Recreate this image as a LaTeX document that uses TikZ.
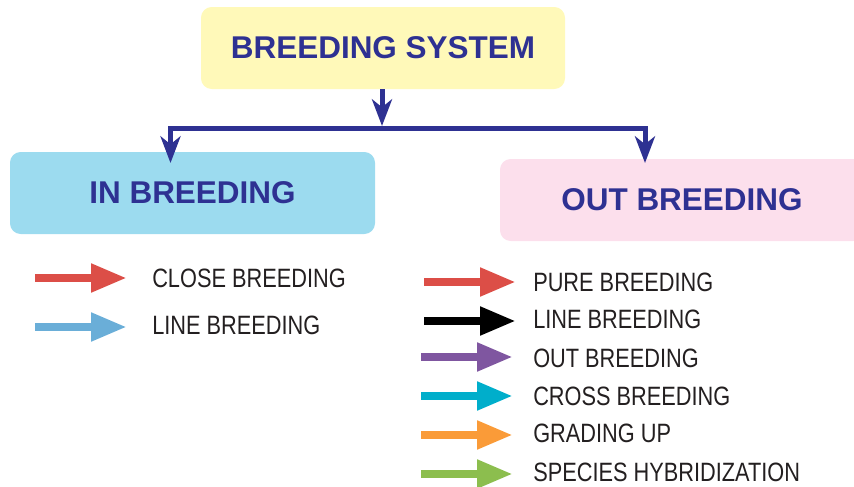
\documentclass[tikz,border=0pt]{standalone}
\usepackage{fontspec}
\setmainfont{Liberation Sans}
\newfontfamily\condfont[FakeStretch=0.82]{Liberation Sans}
\usetikzlibrary{arrows.meta}
\definecolor{navy}{HTML}{2E3192}
\definecolor{yellowbox}{HTML}{FFF9B9}
\definecolor{cyanbox}{HTML}{9CDBEF}
\definecolor{pinkbox}{HTML}{FCDFEC}
\definecolor{legred}{HTML}{DC4E47}
\definecolor{legblue}{HTML}{6AAED8}
\definecolor{legpurple}{HTML}{7F56A0}
\definecolor{legcyan}{HTML}{00AECB}
\definecolor{legorange}{HTML}{FA9B38}
\definecolor{leggreen}{HTML}{8CBE4E}
\definecolor{legtext}{HTML}{231F20}
\tikzset{navytip/.tip={Stealth[length=20pt,width=15pt,inset=6pt]}}
\begin{document}
\begin{tikzpicture}[x=0.75pt,y=-0.75pt,
  box/.style={rounded corners=8pt, minimum width=273pt, minimum height=61.5pt,
    inner sep=0pt, text=navy, font=\fontsize{23.6}{28}\selectfont\bfseries},
  conn/.style={draw=navy, line width=3.75pt, -{navytip}},
  leg/.style={line width=6.5pt, -{Triangle[length=27pt,width=20pt]}},
  legtxt/.style={anchor=west, inner sep=0pt, text=legtext, font=\condfont\fontsize{19.9}{24}\selectfont}]
\useasboundingbox (0,0) rectangle (854,486);
\clip (0,0) rectangle (854,486);
% boxes
\node[box, fill=yellowbox] (top) at (383,48) {BREEDING SYSTEM};
\node[box, fill=cyanbox, minimum width=273.75pt] (inb) at (192.5,193) {IN BREEDING};
\node[box, fill=pinkbox] (outb) at (682,200) {OUT BREEDING};
% connectors
\coordinate (j) at (382,128);
\coordinate (lt) at (170.5,163);
\coordinate (rt) at (645,163);
\draw[conn] (top.south -| j) -- ([yshift=1.5pt]j);
\draw[draw=navy, line width=3.75pt, {navytip}-{navytip}]
  (lt) |- (j) -| (rt);
% left legend
\coordinate (a1s) at (35,278); \coordinate (a1e) at (127,278);
\coordinate (a2s) at (35,327); \coordinate (a2e) at (127,327);
\draw[leg, legred] (a1s) -- (a1e);
\draw[leg, legblue] (a2s) -- (a2e);
\node[legtxt] (t1) at (152,278.5) {CLOSE BREEDING};
\node[legtxt] (t2) at (152,325) {LINE BREEDING};
% right legend
\coordinate (b1s) at (424,282) ; \coordinate (b1e) at (516,282);
\coordinate (b2s) at (424,321) ; \coordinate (b2e) at (516,321);
\coordinate (b3s) at (421,357) ; \coordinate (b3e) at (513,357);
\coordinate (b4s) at (421,396) ; \coordinate (b4e) at (513,396);
\coordinate (b5s) at (421,435) ; \coordinate (b5e) at (513,435);
\coordinate (b6s) at (421,474) ; \coordinate (b6e) at (513,474);
\draw[leg, legred] (b1s) -- (b1e);
\draw[leg, black] (b2s) -- (b2e);
\draw[leg, legpurple] (b3s) -- (b3e);
\draw[leg, legcyan] (b4s) -- (b4e);
\draw[leg, legorange] (b5s) -- (b5e);
\draw[leg, leggreen] (b6s) -- (b6e);
\node[legtxt] (u1) at (533,282) {PURE BREEDING};
\node[legtxt] (u2) at (533,319) {LINE BREEDING};
\node[legtxt] (u3) at (533,358) {OUT BREEDING};
\node[legtxt] (u4) at (533,396.5) {CROSS BREEDING};
\node[legtxt] (u5) at (533,433) {GRADING UP};
\node[legtxt] (u6) at (533,472) {SPECIES HYBRIDIZATION};
\end{tikzpicture}
\end{document}
